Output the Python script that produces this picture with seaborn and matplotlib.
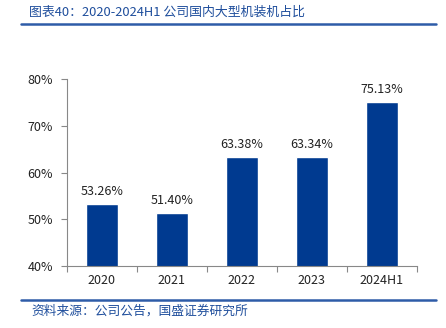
import matplotlib
matplotlib.use("Agg")
import matplotlib.pyplot as plt
import seaborn as sns
import pandas as pd
from matplotlib.lines import Line2D
from matplotlib.ticker import FixedLocator

categories = ["2020", "2021", "2022", "2023", "2024H1"]
values = [53.26, 51.40, 63.38, 63.34, 75.13]
labels = ["53.26%", "51.40%", "63.38%", "63.34%", "75.13%"]
yticks = [40, 50, 60, 70, 80]
ytick_labels = ["40%", "50%", "60%", "70%", "80%"]

sns.set_theme(style="white")
plt.rcParams['font.family'] = ['Noto Sans CJK SC', 'DejaVu Sans']

fig = plt.figure(figsize=(4.46, 3.28), dpi=100)
ax = fig.add_axes([0.150, 0.189, 0.785, 0.570])

df = pd.DataFrame({"cat": categories, "val": values})
sns.barplot(data=df, x="cat", y="val", color="#003A90", width=0.45, ax=ax,
            saturation=1)

ax.set_ylim(40, 80)
ax.set_xlim(-0.5, 4.5)
ax.set_yticks(yticks)
ax.set_yticklabels(ytick_labels, fontsize=9, color="#222222")
ax.tick_params(axis="y", length=4, width=0.8, color="#888888", pad=6, direction="out", left=True)
ax.set_xticks(range(len(categories)))
ax.set_xticklabels(categories, fontsize=9, color="#222222")
ax.tick_params(axis="x", length=0, pad=6)
ax.xaxis.set_minor_locator(FixedLocator([-0.5, 0.5, 1.5, 2.5, 3.5, 4.5]))
ax.tick_params(axis="x", which="minor", length=4, width=0.8, color="#888888", direction="out", bottom=True)
ax.set_xlabel("")
ax.set_ylabel("")
for s in ["top", "right"]:
    ax.spines[s].set_visible(False)
for s in ["left", "bottom"]:
    ax.spines[s].set_color("#888888")
    ax.spines[s].set_linewidth(0.8)

for i, (v, t) in enumerate(zip(values, labels)):
    ax.text(i, v + 1.2, t, ha="center", va="bottom", fontsize=9, color="#222222")

title_color = "#1F4E9C"
fig.text(0.065, 0.962, "图表40：2020-2024H1 公司国内大型机装机占比", fontsize=9.3,
         style="italic", color=title_color, ha="left", va="center")
fig.add_artist(Line2D([0.047, 0.978], [0.926, 0.926], color="#2E5CA8", lw=1.8))
fig.add_artist(Line2D([0.047, 0.978], [0.085, 0.085], color="#2E5CA8", lw=1.8))
fig.text(0.07, 0.052, "资料来源：公司公告，国盛证券研究所", fontsize=9.2,
         style="italic", color=title_color, ha="left", va="center")

fig.savefig("out.png", dpi=100)
